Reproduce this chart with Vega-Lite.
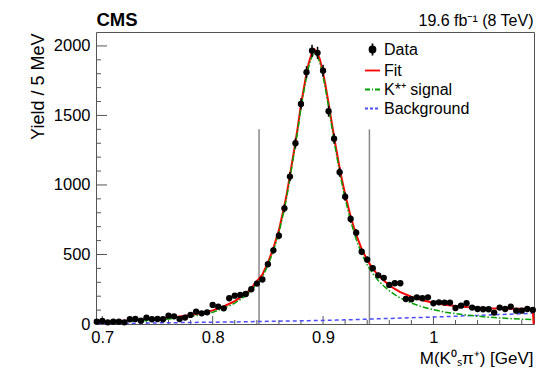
{
  "$schema": "https://vega.github.io/schema/vega-lite/v6.json",
  "width": 438,
  "height": 292,
  "autosize": {"type": "none"},
  "padding": {"left": 96, "top": 32, "right": 14, "bottom": 48},
  "background": "white",
  "config": {
    "view": {"stroke": "#555", "strokeWidth": 1},
    "font": "Liberation Sans",
    "axis": {"domain": false, "grid": false, "labelFont": "Liberation Sans", "titleFont": "Liberation Sans", "labelColor": "black", "titleColor": "black", "tickColor": "#555", "tickWidth": 1, "titleFontWeight": "normal"}
  },
  "datasets": {
    "points": [
      {"x":0.695,"y":17,"lo":13,"hi":21},{"x":0.700,"y":22,"lo":17,"hi":27},{"x":0.705,"y":12,"lo":9,"hi":15},{"x":0.710,"y":17,"lo":13,"hi":21},{"x":0.715,"y":17,"lo":13,"hi":21},
      {"x":0.720,"y":12,"lo":9,"hi":15},{"x":0.725,"y":34,"lo":28,"hi":40},{"x":0.730,"y":36,"lo":30,"hi":42},{"x":0.735,"y":24,"lo":19,"hi":29},{"x":0.740,"y":46,"lo":39,"hi":53},
      {"x":0.745,"y":34,"lo":28,"hi":40},{"x":0.750,"y":36,"lo":30,"hi":42},{"x":0.755,"y":34,"lo":28,"hi":40},{"x":0.760,"y":60,"lo":52,"hi":68},{"x":0.765,"y":55,"lo":48,"hi":62},
      {"x":0.770,"y":36,"lo":30,"hi":42},{"x":0.775,"y":46,"lo":39,"hi":53},{"x":0.780,"y":65,"lo":57,"hi":73},{"x":0.785,"y":89,"lo":80,"hi":98},{"x":0.790,"y":77,"lo":68,"hi":86},
      {"x":0.795,"y":84,"lo":75,"hi":93},{"x":0.800,"y":137,"lo":125,"hi":149},{"x":0.805,"y":125,"lo":114,"hi":136},{"x":0.810,"y":113,"lo":102,"hi":124},{"x":0.815,"y":185,"lo":171,"hi":199},
      {"x":0.820,"y":204,"lo":190,"hi":218},{"x":0.825,"y":209,"lo":195,"hi":223},{"x":0.830,"y":216,"lo":201,"hi":231},{"x":0.835,"y":250,"lo":234,"hi":266},{"x":0.840,"y":291,"lo":274,"hi":308},
      {"x":0.845,"y":320,"lo":302,"hi":338},{"x":0.850,"y":430,"lo":409,"hi":451},{"x":0.855,"y":530,"lo":507,"hi":553},{"x":0.860,"y":635,"lo":610,"hi":660},{"x":0.865,"y":832,"lo":803,"hi":861},
      {"x":0.870,"y":1060,"lo":1027,"hi":1093},{"x":0.875,"y":1300,"lo":1264,"hi":1336},{"x":0.880,"y":1583,"lo":1543,"hi":1623},{"x":0.885,"y":1811,"lo":1768,"hi":1854},{"x":0.890,"y":1965,"lo":1921,"hi":2009},
      {"x":0.895,"y":1950,"lo":1906,"hi":1994},{"x":0.900,"y":1822,"lo":1779,"hi":1865},{"x":0.905,"y":1530,"lo":1491,"hi":1569},{"x":0.910,"y":1333,"lo":1296,"hi":1370},{"x":0.915,"y":1092,"lo":1059,"hi":1125},
      {"x":0.920,"y":916,"lo":886,"hi":946},{"x":0.925,"y":755,"lo":728,"hi":782},{"x":0.930,"y":657,"lo":631,"hi":683},{"x":0.935,"y":520,"lo":497,"hi":543},{"x":0.940,"y":463,"lo":441,"hi":485},
      {"x":0.945,"y":401,"lo":381,"hi":421},{"x":0.950,"y":350,"lo":331,"hi":369},{"x":0.955,"y":332,"lo":314,"hi":350},{"x":0.960,"y":281,"lo":264,"hi":298},{"x":0.965,"y":293,"lo":276,"hi":310},
      {"x":0.970,"y":293,"lo":276,"hi":310},{"x":0.975,"y":180,"lo":167,"hi":193},{"x":0.980,"y":178,"lo":165,"hi":191},{"x":0.985,"y":192,"lo":178,"hi":206},{"x":0.990,"y":185,"lo":171,"hi":199},
      {"x":0.995,"y":192,"lo":178,"hi":206},{"x":1.000,"y":149,"lo":137,"hi":161},{"x":1.005,"y":156,"lo":144,"hi":168},{"x":1.010,"y":154,"lo":142,"hi":166},{"x":1.015,"y":154,"lo":142,"hi":166},
      {"x":1.020,"y":115,"lo":104,"hi":126},{"x":1.025,"y":132,"lo":121,"hi":143},{"x":1.030,"y":149,"lo":137,"hi":161},{"x":1.035,"y":118,"lo":107,"hi":129},{"x":1.040,"y":108,"lo":98,"hi":118},
      {"x":1.045,"y":106,"lo":96,"hi":116},{"x":1.050,"y":106,"lo":96,"hi":116},{"x":1.055,"y":82,"lo":73,"hi":91},{"x":1.060,"y":118,"lo":107,"hi":129},{"x":1.065,"y":108,"lo":98,"hi":118},
      {"x":1.070,"y":125,"lo":114,"hi":136},{"x":1.075,"y":96,"lo":86,"hi":106},{"x":1.080,"y":96,"lo":86,"hi":106},{"x":1.085,"y":108,"lo":98,"hi":118},{"x":1.090,"y":101,"lo":91,"hi":111}
    ],
    "curves": [
      {"x":0.695,"fit":14.4,"sig":12.4,"bg":2},{"x":0.70,"fit":16.3,"sig":13.3,"bg":3},{"x":0.71,"fit":19.6,"sig":15.6,"bg":4},
      {"x":0.72,"fit":23.3,"sig":18.3,"bg":5},{"x":0.73,"fit":27.6,"sig":21.6,"bg":6},{"x":0.74,"fit":32.5,"sig":25.5,"bg":7},
      {"x":0.75,"fit":38,"sig":30,"bg":8},{"x":0.76,"fit":45,"sig":36,"bg":9},{"x":0.77,"fit":54,"sig":44,"bg":10},
      {"x":0.78,"fit":65,"sig":54,"bg":11},{"x":0.79,"fit":79,"sig":67,"bg":12},{"x":0.80,"fit":98,"sig":85,"bg":13},
      {"x":0.81,"fit":126,"sig":112,"bg":14},{"x":0.82,"fit":165,"sig":150,"bg":15},{"x":0.83,"fit":218.5,"sig":202,"bg":16.5},
      {"x":0.835,"fit":258,"sig":241,"bg":17},{"x":0.84,"fit":308,"sig":290,"bg":18},{"x":0.845,"fit":355,"sig":336.5,"bg":18.5},
      {"x":0.85,"fit":440,"sig":421,"bg":19},{"x":0.855,"fit":545,"sig":525.5,"bg":19.5},{"x":0.86,"fit":675,"sig":655,"bg":20},
      {"x":0.865,"fit":850,"sig":829,"bg":21},{"x":0.867,"fit":930,"sig":909,"bg":21},{"x":0.8695,"fit":1045,"sig":1023.5,"bg":21.5},
      {"x":0.872,"fit":1165,"sig":1143.5,"bg":21.5},{"x":0.8745,"fit":1285,"sig":1263,"bg":22},{"x":0.877,"fit":1410,"sig":1387.5,"bg":22.5},
      {"x":0.8795,"fit":1550,"sig":1527,"bg":23},{"x":0.882,"fit":1670,"sig":1646.5,"bg":23.5},{"x":0.8845,"fit":1780,"sig":1756,"bg":24},
      {"x":0.887,"fit":1875,"sig":1851,"bg":24},{"x":0.8895,"fit":1940,"sig":1915,"bg":25},{"x":0.892,"fit":1975,"sig":1950,"bg":25},
      {"x":0.8945,"fit":1957.5,"sig":1932,"bg":25.5},{"x":0.897,"fit":1905.5,"sig":1880,"bg":25.5},{"x":0.8995,"fit":1826,"sig":1800,"bg":26},
      {"x":0.902,"fit":1725.5,"sig":1699,"bg":26.5},{"x":0.9045,"fit":1611,"sig":1584,"bg":27},{"x":0.907,"fit":1490,"sig":1463,"bg":27},
      {"x":0.9095,"fit":1369.5,"sig":1342,"bg":27.5},{"x":0.912,"fit":1253,"sig":1225,"bg":28},{"x":0.9145,"fit":1143.5,"sig":1115,"bg":28.5},
      {"x":0.917,"fit":1042,"sig":1013,"bg":29},{"x":0.92,"fit":933,"sig":903,"bg":30},{"x":0.925,"fit":771,"sig":740,"bg":31},
      {"x":0.93,"fit":642,"sig":610,"bg":32},{"x":0.935,"fit":538.5,"sig":505,"bg":33.5},{"x":0.94,"fit":460,"sig":425,"bg":35},
      {"x":0.945,"fit":399,"sig":363,"bg":36},{"x":0.95,"fit":350.5,"sig":313,"bg":37.5},{"x":0.955,"fit":312,"sig":273,"bg":39},
      {"x":0.96,"fit":279,"sig":239,"bg":40},{"x":0.965,"fit":252,"sig":211,"bg":41},{"x":0.97,"fit":229.5,"sig":187,"bg":42.5},
      {"x":0.98,"fit":196,"sig":151,"bg":45},{"x":0.99,"fit":170.5,"sig":123,"bg":47.5},{"x":1.00,"fit":153,"sig":103,"bg":50},
      {"x":1.01,"fit":139,"sig":86,"bg":53},{"x":1.02,"fit":130,"sig":74,"bg":56},{"x":1.03,"fit":123,"sig":64,"bg":59},
      {"x":1.04,"fit":118,"sig":56,"bg":62},{"x":1.05,"fit":114,"sig":49,"bg":65},{"x":1.06,"fit":112,"sig":44,"bg":68},
      {"x":1.07,"fit":110,"sig":39,"bg":71},{"x":1.08,"fit":109,"sig":35,"bg":74},{"x":1.09,"fit":108,"sig":31,"bg":77},
      {"x":1.0908,"fit":0}
    ],
    "lines": [{"x":0.842,"top":1400},{"x":0.942,"top":1400}],
    "yticks": [{"v":0},{"v":100},{"v":200},{"v":300},{"v":400},{"v":500},{"v":600},{"v":700},{"v":800},{"v":900},{"v":1000},
               {"v":1100},{"v":1200},{"v":1300},{"v":1400},{"v":1500},{"v":1600},{"v":1700},{"v":1800},{"v":1900},{"v":2000}],
    "xticks": [{"v":0.7},{"v":0.72},{"v":0.74},{"v":0.76},{"v":0.78},{"v":0.8},{"v":0.82},{"v":0.84},{"v":0.86},{"v":0.88},
               {"v":0.9},{"v":0.92},{"v":0.94},{"v":0.96},{"v":0.98},{"v":1.0},{"v":1.02},{"v":1.04},{"v":1.06},{"v":1.08}]
  },
  "layer": [
    {
      "data": {"name": "lines"},
      "mark": {"type": "rule", "color": "#888", "strokeWidth": 1.5},
      "encoding": {
        "x": {"field": "x", "type": "quantitative", "scale": {"domain": [0.6943, 1.0911], "nice": false, "zero": false},
              "axis": {"orient": "bottom", "values": [0.7, 0.8, 0.9, 1.0], "format": "~g",
                       "labelOverlap": false, "labelBound": false, "labelFlush": false,
                       "ticks": false, "labelPadding": 5, "labelFontSize": 16.5,
                       "title": "M(K⁰ₛπ⁺) [GeV]", "titleFontSize": 17, "titleAlign": "right", "titleX": 437, "titleY": 39, "titleBaseline": "alphabetic", "titleAnchor": "end"}},
        "y": {"field": "top", "type": "quantitative", "scale": {"domain": [0, 2100], "nice": false},
              "axis": {"orient": "left", "values": [0, 500, 1000, 1500, 2000], "format": "d",
                       "labelOverlap": false, "labelBound": false, "labelFlush": false,
                       "ticks": false, "labelPadding": 6, "labelFontSize": 16.5,
                       "title": "Yield / 5 MeV", "titleFontSize": 18, "titleAngle": 270, "titleAlign": "right", "titleBaseline": "alphabetic", "titleX": -53, "titleY": 1, "titleAnchor": "end"}},
        "y2": {"datum": 0}
      }
    },
    {
      "data": {"name": "yticks"},
      "mark": {"type": "tick", "orient": "horizontal", "color": "#555", "thickness": 1, "clip": true, "opacity": 1},
      "encoding": {
        "x": {"datum": 0.6943, "type": "quantitative", "scale": {"domain": [0.6943, 1.0911], "nice": false, "zero": false}, "axis": null},
        "y": {"field": "v", "type": "quantitative", "scale": {"domain": [0, 2100], "nice": false}, "axis": null},
        "size": {"condition": {"test": "datum.v % 500 === 0", "value": 22}, "value": 10}
      }
    },
    {
      "data": {"name": "xticks"},
      "mark": {"type": "tick", "orient": "vertical", "color": "#555", "thickness": 1, "clip": true, "opacity": 1},
      "encoding": {
        "x": {"field": "v", "type": "quantitative", "scale": {"domain": [0.6943, 1.0911], "nice": false, "zero": false}, "axis": null},
        "y": {"datum": 0, "type": "quantitative", "scale": {"domain": [0, 2100], "nice": false}, "axis": null},
        "size": {"condition": {"test": "abs(datum.v * 10 - round(datum.v * 10)) < 0.0001", "value": 16}, "value": 8}
      }
    },
    {
      "data": {"name": "curves"},
      "mark": {"type": "line", "strokeWidth": 1.5, "strokeDash": [4, 3]},
      "encoding": {
        "x": {"field": "x", "type": "quantitative", "scale": {"domain": [0.6943, 1.0911], "nice": false, "zero": false}, "axis": null},
        "y": {"field": "bg", "type": "quantitative", "scale": {"domain": [0, 2100], "nice": false}, "axis": null},
        "color": {"datum": "Background", "type": "nominal",
                  "scale": {"domain": ["Data", "Fit", "K*⁺ signal", "Background"], "range": ["black", "#ff0000", "#00a000", "#4b4bff"]},
                  "legend": {"orient": "none", "legendX": 268, "legendY": 9, "title": null, "padding": 0,
                             "labelFontSize": 16, "labelFont": "Liberation Sans", "labelColor": "black", "labelOffset": 3,
                             "symbolSize": 225, "symbolStrokeWidth": 1.8, "rowPadding": 2,
                             "encode": {"symbols": {"update": {
                               "shape": {"signal": "datum.value === 'Data' ? 'M0,-0.8L0,0.8M-0.4,0A0.4,0.4 0 1,0 0.4,0A0.4,0.4 0 1,0 -0.4,0' : 'stroke'"},
                               "fill": {"signal": "datum.value === 'Data' ? 'black' : 'transparent'"},
                               "stroke": {"signal": "datum.value === 'Data' ? 'black' : datum.value === 'Fit' ? '#ff0000' : datum.value === 'Background' ? '#4b4bff' : '#00a000'"},
                               "strokeDash": {"signal": "datum.value === 'Background' ? [3, 2] : datum.value === 'Fit' || datum.value === 'Data' ? [] : [5, 2, 1, 2]"},
                               "opacity": {"value": 1}
                             }}}}}
      }
    },
    {
      "data": {"name": "curves"},
      "mark": {"type": "line", "strokeWidth": 2},
      "encoding": {
        "x": {"field": "x", "type": "quantitative", "scale": {"domain": [0.6943, 1.0911], "nice": false, "zero": false}, "axis": null},
        "y": {"field": "fit", "type": "quantitative", "scale": {"domain": [0, 2100], "nice": false}, "axis": null},
        "color": {"datum": "Fit", "type": "nominal"}
      }
    },
    {
      "data": {"name": "curves"},
      "mark": {"type": "line", "strokeWidth": 1.5, "strokeDash": [6, 2, 1.5, 2]},
      "encoding": {
        "x": {"field": "x", "type": "quantitative", "scale": {"domain": [0.6943, 1.0911], "nice": false, "zero": false},
              "axis": {"orient": "top", "ticks": false, "labels": false, "title": "19.6 fb⁻¹ (8 TeV)", "titleFontSize": 16, "titleAlign": "right", "titleX": 437, "titleY": -7, "titleBaseline": "alphabetic", "titleAnchor": "end"}},
        "y": {"field": "sig", "type": "quantitative", "scale": {"domain": [0, 2100], "nice": false}, "axis": null},
        "color": {"datum": "K*⁺ signal", "type": "nominal"}
      }
    },
    {
      "data": {"name": "points"},
      "mark": {"type": "rule", "strokeWidth": 1.5, "color": "black"},
      "encoding": {
        "x": {"field": "x", "type": "quantitative", "scale": {"domain": [0.6943, 1.0911], "nice": false, "zero": false},
              "axis": {"orient": "top", "ticks": false, "labels": false, "title": "CMS", "titleFontSize": 18.5, "titleFontWeight": "bold", "titleAlign": "left", "titleX": 0, "titleY": -7, "titleBaseline": "alphabetic", "titleAnchor": "start"}},
        "y": {"field": "lo", "type": "quantitative", "scale": {"domain": [0, 2100], "nice": false}, "axis": null},
        "y2": {"field": "hi"}
      }
    },
    {
      "data": {"name": "points"},
      "mark": {"type": "point", "filled": true, "size": 40, "opacity": 1},
      "encoding": {
        "x": {"field": "x", "type": "quantitative", "scale": {"domain": [0.6943, 1.0911], "nice": false, "zero": false}, "axis": null},
        "y": {"field": "y", "type": "quantitative", "scale": {"domain": [0, 2100], "nice": false}, "axis": null},
        "color": {"datum": "Data", "type": "nominal"}
      }
    }
  ],
  "resolve": {"axis": {"x": "independent", "y": "independent"}}
}
